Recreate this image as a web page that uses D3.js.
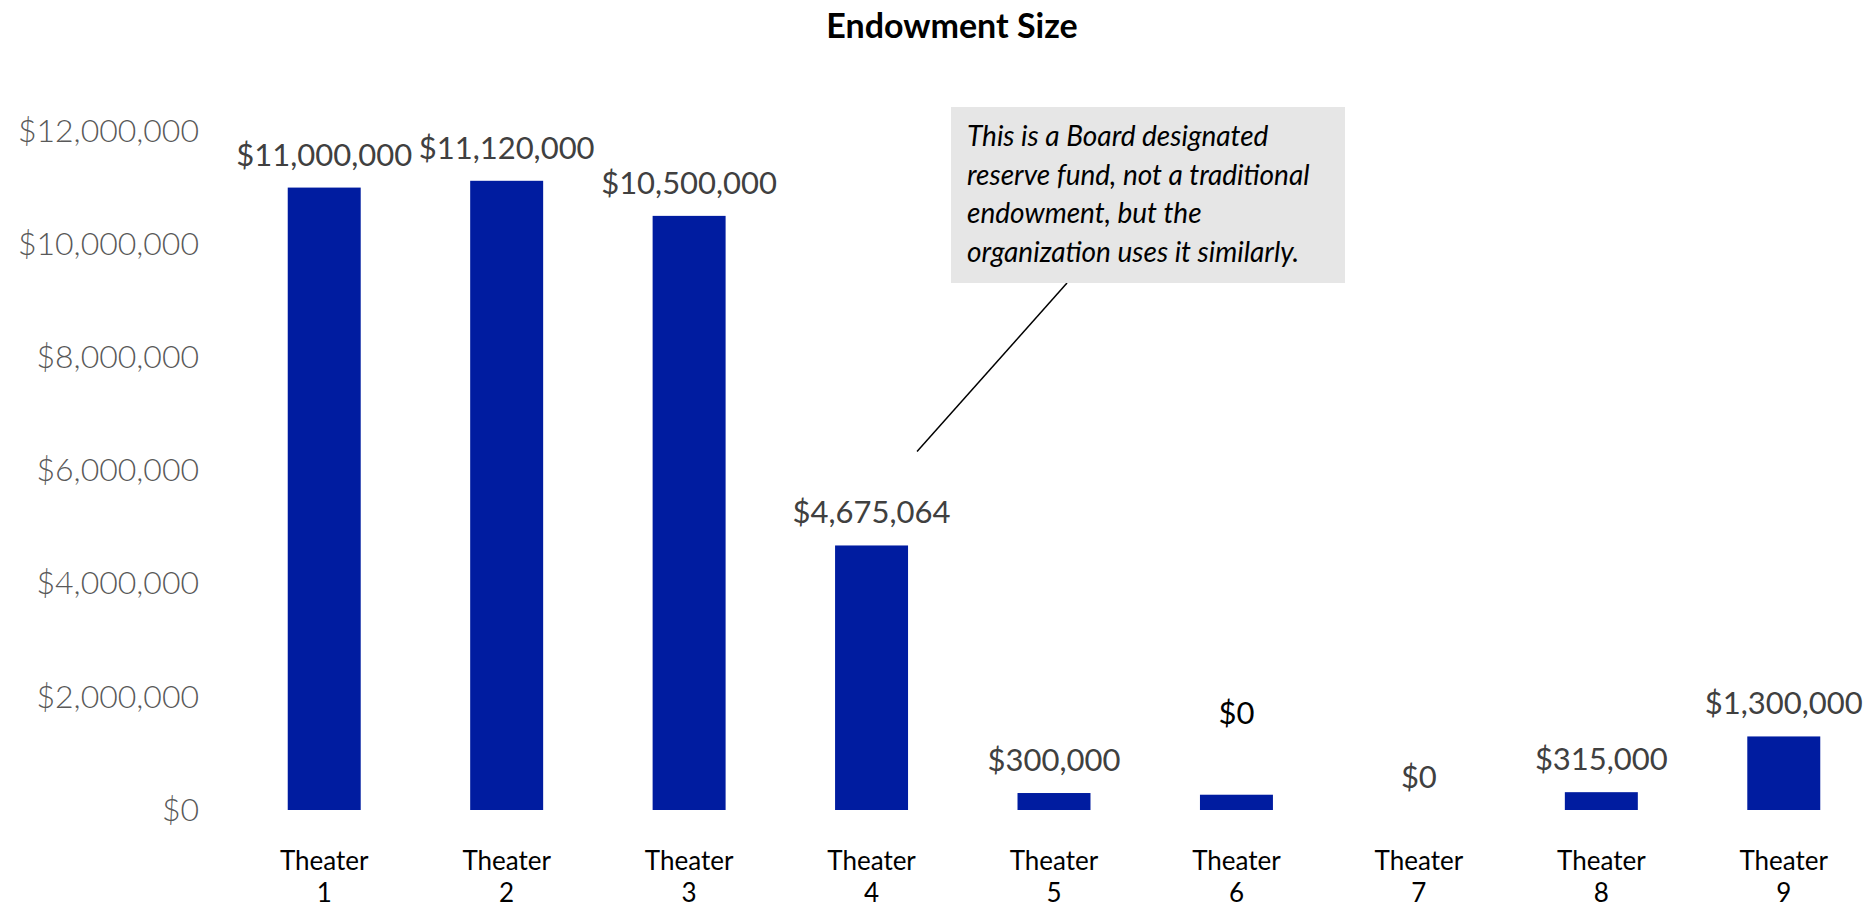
<!DOCTYPE html>
<html>
<head>
<meta charset="utf-8">
<script src="https://cdn.jsdelivr.net/npm/d3@7/dist/d3.min.js"></script>
<style>
  html, body { margin: 0; padding: 0; background: #ffffff; }
  svg { display: block; }
  text { font-family: Lato, "Liberation Sans", sans-serif; }
</style>
</head>
<body>
<svg id="chart" width="1873" height="909"></svg>
<script>
// Endowment size per theater
const theaters = ["Theater 1", "Theater 2", "Theater 3", "Theater 4", "Theater 5",
                  "Theater 6", "Theater 7", "Theater 8", "Theater 9"];
const endowments = [11000000, 11120000, 10500000, 4675064, 300000, 270000, 0, 315000, 1300000];
// Data labels shown above each bar (Theater 6 carries a separate note instead)
const showLabel = [true, true, true, true, true, false, true, true, true];
const yTicks = [0, 2000000, 4000000, 6000000, 8000000, 10000000, 12000000];
const chartTitle = "Endowment Size";
const noteLines = ["This is a Board designated", "reserve fund, not a traditional",
                   "endowment, but the", "organization uses it similarly."];
const zeroNote = "$0";

const svg = d3.select("#chart");

const fmt = v => "$" + d3.format(",")(v);

const x = d3.scaleBand()
  .domain(theaters)
  .range([233, 1875])
  .paddingInner(0.6)
  .paddingOuter(0.3);

const y = d3.scaleLinear()
  .domain([0, 12000000])
  .range([810, 131]);

// Title
svg.append("text")
  .attr("x", 952).attr("y", 38)
  .attr("text-anchor", "middle")
  .attr("font-size", 34).attr("font-weight", 700)
  .attr("fill", "#000")
  .text(chartTitle);

// Y axis labels (no line, no ticks)
const yAxis = svg.append("g")
  .attr("transform", "translate(199,0)")
  .call(d3.axisLeft(y).tickValues(yTicks).tickSize(0).tickPadding(0).tickFormat(fmt));
yAxis.select(".domain").remove();
yAxis.selectAll("text")
  .attr("font-family", "Lato, 'Liberation Sans', sans-serif")
  .attr("font-size", 32)
  .attr("font-weight", 300)
  .attr("fill", "#595959");

// Bars
svg.append("g").selectAll("rect")
  .data(theaters)
  .join("rect")
  .attr("x", d => x(d))
  .attr("width", x.bandwidth())
  .attr("y", (d, i) => y(endowments[i]))
  .attr("height", (d, i) => y(0) - y(endowments[i]))
  .attr("fill", "#001ca0");

// Value labels
svg.append("g").selectAll("text")
  .data(theaters.map((t, i) => ({ t, v: endowments[i], show: showLabel[i] })).filter(d => d.show))
  .join("text")
  .attr("x", d => x(d.t) + x.bandwidth() / 2)
  .attr("y", d => y(d.v) - 22)
  .attr("text-anchor", "middle")
  .attr("font-size", 31)
  .attr("fill", "#404040")
  .text(d => fmt(d.v));

// Note above Theater 6
const t6 = theaters[5];
svg.append("text")
  .attr("x", x(t6) + x.bandwidth() / 2)
  .attr("y", y(endowments[5]) - 71)
  .attr("text-anchor", "middle")
  .attr("font-size", 31)
  .attr("fill", "#000")
  .text(zeroNote);

// Category labels (two lines)
const cat = svg.append("g").selectAll("text")
  .data(theaters)
  .join("text")
  .attr("text-anchor", "middle")
  .attr("font-size", 26)
  .attr("fill", "#000");
cat.append("tspan")
  .attr("x", d => x(d) + x.bandwidth() / 2)
  .attr("y", 870)
  .text(d => d.split(" ")[0]);
cat.append("tspan")
  .attr("x", d => x(d) + x.bandwidth() / 2)
  .attr("y", 902)
  .text(d => d.split(" ")[1]);

// Callout for Theater 4
const t4 = theaters[3];
svg.append("line")
  .attr("x1", 1067).attr("y1", 283)
  .attr("x2", x(t4) + x.bandwidth() + 9).attr("y2", y(endowments[3]) - 94)
  .attr("stroke", "#000").attr("stroke-width", 1.5);

svg.append("rect")
  .attr("x", 951).attr("y", 107)
  .attr("width", 394).attr("height", 176)
  .attr("fill", "#e6e6e6");

svg.append("g").selectAll("text")
  .data(noteLines)
  .join("text")
  .attr("x", 967)
  .attr("y", (d, i) => 146 + i * 38.7)
  .attr("font-size", 28)
  .attr("font-style", "italic")
  .attr("fill", "#000")
  .text(d => d);
</script>
</body>
</html>
